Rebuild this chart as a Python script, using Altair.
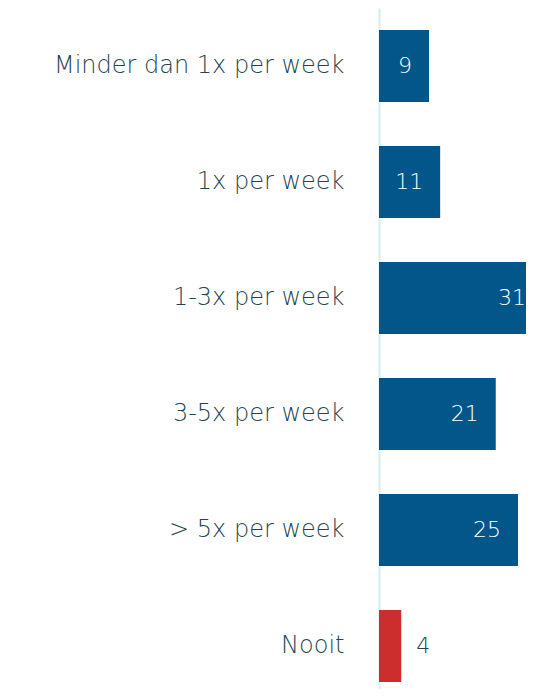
import altair as alt
import pandas as pd

categories = ["Minder dan 1x per week", "1x per week", "1-3x per week",
              "3-5x per week", "> 5x per week", "Nooit"]
values = [9, 11, 31, 21, 25, 4]
groups = ["ja", "ja", "ja", "ja", "ja", "nooit"]

df = pd.DataFrame({"cat": categories, "val": values, "grp": groups})

BLUE = "#02568a"
RED = "#cc2e2e"
TXT = "#1f4650"
FONT = "DejaVu Sans"
XMAX = 26.44

y = alt.Y("cat:N", sort=categories, title=None,
          scale=alt.Scale(paddingInner=0.379, paddingOuter=0.125, align=0.76),
          axis=alt.Axis(domainColor="#d2eef0", domainWidth=2, ticks=False,
                        labelPadding=35, labelFontSize=24, labelFont=FONT,
                        labelFontWeight=200, labelColor=TXT, labelLimit=400))
xs = alt.Scale(domain=[0, XMAX], nice=False)
x = alt.X("val:Q", axis=None, scale=xs)

base = alt.Chart(df)

bars = base.mark_bar(clip=True).encode(
    x=x, y=y,
    color=alt.Color("grp:N", scale=alt.Scale(domain=["ja", "nooit"], range=[BLUE, RED]), legend=None),
)

inside = base.transform_filter("datum.grp == 'ja'").transform_calculate(
    lx=f"min(datum.val - 3.06, {XMAX})"
).mark_text(
    align="right", font=FONT, fontSize=22, fontWeight=200, color="white"
).encode(x=alt.X("lx:Q", axis=None, scale=xs), y=y, text="val:Q")

outside = base.transform_filter("datum.grp == 'nooit'").mark_text(
    align="left", dx=15, font=FONT, fontSize=22, fontWeight=200, color=TXT
).encode(x=x, y=y, text="val:Q")

chart = (bars + inside + outside).properties(
    width=147, height=681,
    autosize=alt.AutoSizeParams(type="none"),
    padding={"left": 371, "top": 0, "right": 0, "bottom": 0},
).configure_view(stroke=None)

chart.save("out.html", embed_options={"renderer": "svg", "actions": False})
